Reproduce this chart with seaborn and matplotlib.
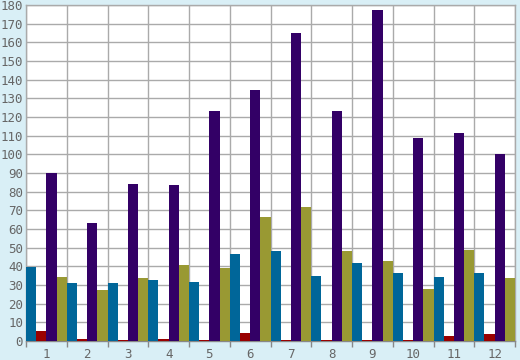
import matplotlib
matplotlib.use("Agg")
import matplotlib.pyplot as plt
import seaborn as sns
import pandas as pd
import numpy as np

categories = [str(i) for i in range(1, 13)]
blue = [39.5, 31, 31, 32.5, 31.5, 46.5, 48, 35, 42, 36.5, 34.5, 36.5]
red = [5.5, 1.3, 0.4, 1.3, 0.4, 4.2, 0.4, 0.4, 0.4, 0.4, 2.5, 3.5]
purple = [90, 63, 84, 83.5, 123, 134.5, 165, 123, 177.5, 108.5, 111.5, 100]
olive = [34.5, 27.5, 33.5, 40.5, 39, 66.5, 72, 48, 43, 28, 48.5, 33.5]
series = ["blue", "red", "purple", "olive"]
colors = ["#006699", "#990000", "#330066", "#999933"]

df = pd.DataFrame({"cat": categories * 4,
                   "series": np.repeat(series, 12),
                   "value": blue + red + purple + olive})

sns.set_style("white")
plt.rcParams['font.family'] = ['DejaVu Sans Mono']

fig = plt.figure(figsize=(5.2, 3.6), dpi=100)
fig.patch.set_facecolor("#d9eff6")
ax = fig.add_axes([26 / 520, 19 / 360, 489 / 520, 336 / 360])

sns.barplot(data=df, x="cat", y="value", hue="series", hue_order=series,
            palette=colors, width=1.0, saturation=1, legend=False, ax=ax,
            linewidth=0, zorder=3)

ax.set_xlim(-0.5, 11.5)
ax.set_ylim(0, 180)
ax.set_yticks(range(0, 181, 10))
ax.set_xticks(np.arange(-0.5, 12, 1), minor=True)
ax.set_xlabel("")
ax.set_ylabel("")
ax.grid(True, axis="y", color="#aaaaaa", linewidth=1, zorder=0)
ax.grid(True, axis="x", which="minor", color="#aaaaaa", linewidth=1, zorder=0)
ax.grid(False, axis="x", which="major")
ax.tick_params(axis="x", which="major", bottom=False, length=0, labelsize=9,
               colors="#666666", pad=5)
ax.tick_params(axis="x", which="minor", bottom=True, length=4, width=1,
               color="#888888", direction="out")
ax.tick_params(axis="y", length=0, labelsize=9, colors="#666666", pad=2)
for s in ax.spines.values():
    s.set_color("#aaaaaa")
    s.set_linewidth(1)
ax.spines["bottom"].set_color("#888888")

fig.savefig("out.png", dpi=100, facecolor=fig.get_facecolor())
